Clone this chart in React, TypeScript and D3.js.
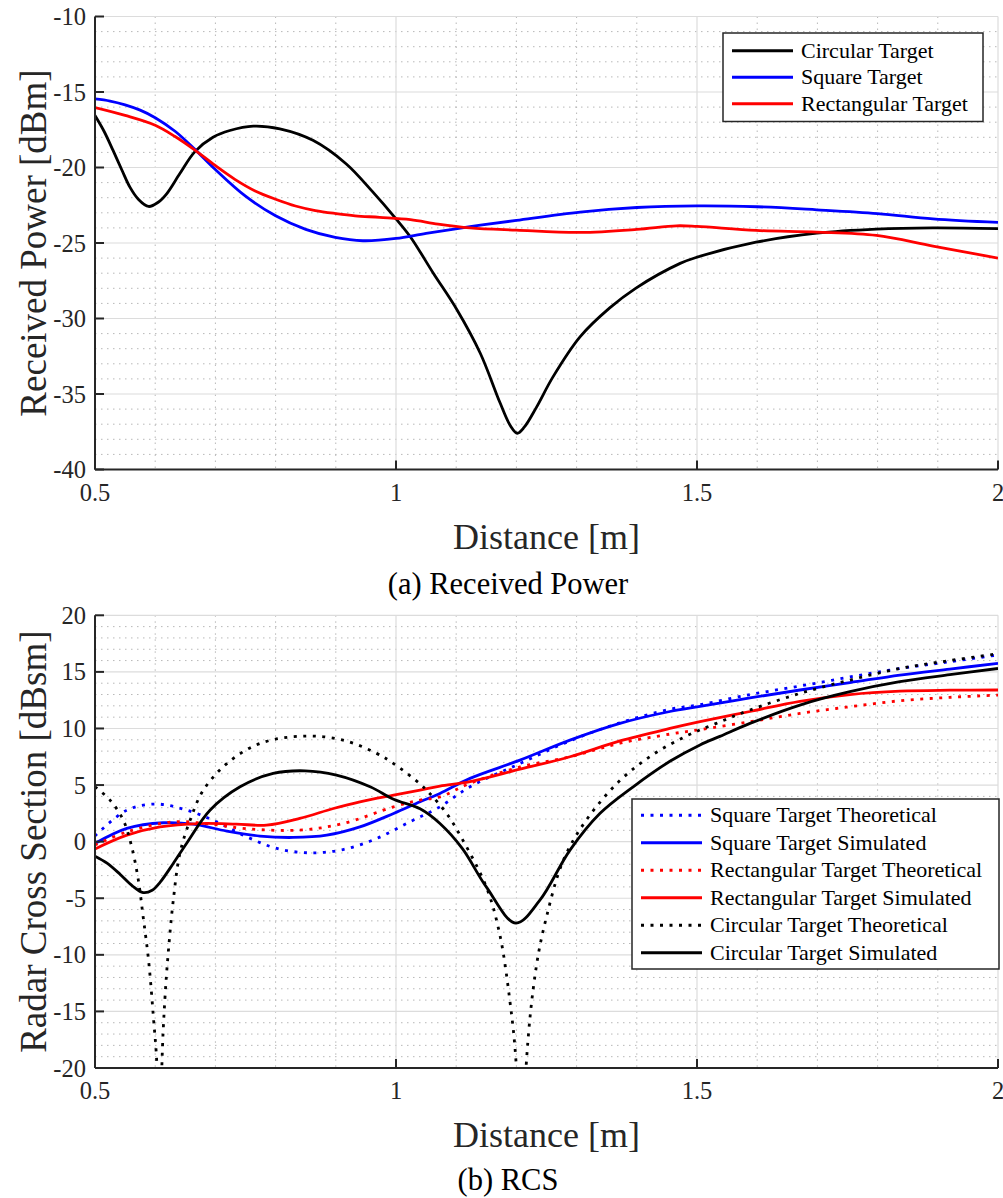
import React from "react";
import * as d3 from "d3";

// ---------- Data: (a) Received Power ----------
const rpCircX = [0.5, 0.515, 0.53, 0.545, 0.558, 0.572, 0.589, 0.605, 0.619, 0.641, 0.666, 0.696, 0.724, 0.763, 0.807, 0.862, 0.917, 0.961, 1.0, 1.024, 1.062, 1.101, 1.14, 1.173, 1.19, 1.2015, 1.213, 1.233, 1.261, 1.306, 1.355, 1.398, 1.472, 1.5, 1.598, 1.699, 1.798, 1.892, 2.0];
const rpCircY = [-16.56, -17.6, -18.87, -20.2, -21.3, -22.1, -22.58, -22.3, -21.74, -20.4, -18.95, -18.0, -17.55, -17.26, -17.44, -18.2, -19.75, -21.6, -23.4, -24.6, -27.0, -29.4, -32.3, -35.6, -37.1, -37.6, -37.2, -35.9, -33.85, -31.2, -29.3, -28.0, -26.35, -25.94, -24.95, -24.35, -24.08, -24.0, -24.05];

const rpSqX = [0.5, 0.525, 0.55, 0.575, 0.6, 0.633, 0.666, 0.699, 0.75, 0.8, 0.85, 0.899, 0.945, 1.0, 1.05, 1.123, 1.2, 1.306, 1.4, 1.5, 1.6, 1.699, 1.8, 1.892, 2.0];
const rpSqY = [-15.46, -15.6, -15.85, -16.2, -16.7, -17.6, -18.8, -20.1, -21.9, -23.2, -24.1, -24.63, -24.85, -24.7, -24.36, -23.92, -23.5, -22.95, -22.65, -22.54, -22.6, -22.8, -23.05, -23.4, -23.64];

const rpRectX = [0.5, 0.55, 0.6, 0.633, 0.666, 0.699, 0.733, 0.766, 0.8, 0.833, 0.866, 0.9, 0.932, 0.973, 1.024, 1.07, 1.123, 1.2, 1.306, 1.4, 1.466, 1.5, 1.598, 1.699, 1.798, 1.892, 2.0];
const rpRectY = [-16.03, -16.55, -17.2, -17.95, -18.85, -19.85, -20.8, -21.55, -22.1, -22.55, -22.85, -23.05, -23.2, -23.3, -23.45, -23.75, -24.0, -24.15, -24.3, -24.1, -23.86, -23.9, -24.17, -24.28, -24.5, -25.2, -26.0];

// ---------- Data: (b) RCS ----------
const rcsSqThX = [0.5, 0.553, 0.602, 0.652, 0.702, 0.752, 0.802, 0.857, 0.912, 0.968, 1.023, 1.073, 1.123, 1.206, 1.289, 1.372, 1.455, 1.505, 1.588, 1.671, 1.754, 1.837, 1.92, 2.0];
const rcsSqThY = [0.5, 2.79, 3.32, 2.79, 1.75, 0.43, -0.6, -0.99, -0.7, 0.28, 1.75, 3.08, 4.85, 6.9, 8.9, 10.5, 11.7, 12.1, 13.0, 13.75, 14.55, 15.3, 15.9, 16.5];

const rcsSqSimX = [0.5, 0.553, 0.613, 0.663, 0.719, 0.774, 0.829, 0.885, 0.94, 0.996, 1.04, 1.073, 1.123, 1.206, 1.289, 1.372, 1.455, 1.505, 1.588, 1.671, 1.754, 1.837, 1.92, 2.0];
const rcsSqSimY = [-0.16, 1.17, 1.67, 1.55, 0.93, 0.49, 0.37, 0.57, 1.3, 2.49, 3.52, 4.26, 5.59, 7.2, 8.97, 10.45, 11.5, 11.95, 12.7, 13.4, 14.05, 14.72, 15.25, 15.75];

const rcsRectThX = [0.5, 0.553, 0.63, 0.691, 0.752, 0.84, 0.912, 0.996, 1.04, 1.073, 1.123, 1.206, 1.289, 1.372, 1.455, 1.505, 1.588, 1.671, 1.754, 1.837, 1.92, 2.0];
const rcsRectThY = [-0.3, 0.86, 1.75, 1.55, 1.14, 1.02, 1.6, 3.08, 3.67, 3.96, 5.15, 6.6, 7.5, 8.7, 9.5, 9.9, 10.6, 11.33, 11.92, 12.45, 12.75, 12.95];

const rcsRectSimX = [0.5, 0.553, 0.608, 0.674, 0.735, 0.785, 0.84, 0.896, 0.94, 0.996, 1.04, 1.073, 1.123, 1.206, 1.289, 1.372, 1.455, 1.505, 1.588, 1.671, 1.754, 1.837, 1.92, 2.0];
const rcsRectSimY = [-0.65, 0.57, 1.3, 1.6, 1.55, 1.46, 2.05, 2.93, 3.52, 4.11, 4.55, 4.91, 5.3, 6.4, 7.5, 8.9, 10.0, 10.6, 11.5, 12.4, 13.0, 13.3, 13.38, 13.4];

const rcsCircThX = [0.5, 0.525, 0.547, 0.561, 0.572, 0.58, 0.589, 0.597, 0.603, 0.607, 0.611, 0.616, 0.622, 0.63, 0.641, 0.658, 0.68, 0.719, 0.774, 0.849, 0.912, 0.968, 0.996, 1.04, 1.056, 1.084, 1.111, 1.15, 1.172, 1.189, 1.2, 1.208, 1.216, 1.233, 1.25, 1.278, 1.316, 1.372, 1.427, 1.483, 1.532, 1.588, 1.671, 1.754, 1.837, 1.92, 2.0];
const rcsCircThY = [4.85, 3.67, 1.9, -0.46, -3.4, -6.65, -10.5, -15.5, -20, -40, -20, -14.0, -9.6, -5.2, -1.04, 1.9, 4.55, 6.9, 8.68, 9.33, 8.97, 7.8, 6.9, 5.1, 4.26, 2.5, 0.13, -4.0, -8.1, -14.0, -20, -40, -20, -11.07, -6.65, -1.64, 1.9, 5.4, 7.7, 9.35, 10.45, 11.63, 13.1, 14.28, 15.3, 16.0, 16.6];

const rcsCircSimX = [0.5, 0.52, 0.542, 0.562, 0.58, 0.595, 0.608, 0.63, 0.652, 0.691, 0.741, 0.796, 0.849, 0.901, 0.957, 0.996, 1.04, 1.073, 1.11, 1.15, 1.199, 1.239, 1.289, 1.339, 1.394, 1.455, 1.505, 1.538, 1.588, 1.671, 1.754, 1.837, 1.92, 2.0];
const rcsCircSimY = [-1.28, -1.9, -2.9, -3.9, -4.5, -4.3, -3.6, -1.93, -0.16, 2.78, 4.85, 6.03, 6.26, 5.88, 4.85, 3.75, 2.9, 1.6, -0.6, -4.0, -7.2, -5.17, -0.75, 2.5, 4.85, 7.1, 8.55, 9.3, 10.45, 12.07, 13.25, 14.13, 14.75, 15.3];

// ---------- Ticks / labels ----------
const xTicks = [0.5, 1, 1.5, 2];
const xTickLabels = ["0.5", "1", "1.5", "2"];
const rpYTicks = [-40, -35, -30, -25, -20, -15, -10];
const rcsYTicks = [-20, -15, -10, -5, 0, 5, 10, 15, 20];

const AX = "#262626";
const FONT = "'Liberation Serif', 'Times New Roman', serif";
const DOT = "3 6.5";

type Series = { name: string; xs: number[]; ys: number[]; color: string; dotted: boolean };

const rpSeries: Series[] = [
  { name: "Circular Target", xs: rpCircX, ys: rpCircY, color: "#000000", dotted: false },
  { name: "Square Target", xs: rpSqX, ys: rpSqY, color: "#0000ff", dotted: false },
  { name: "Rectangular Target", xs: rpRectX, ys: rpRectY, color: "#ff0000", dotted: false },
];

const rcsSeries: Series[] = [
  { name: "Square Target Theoretical", xs: rcsSqThX, ys: rcsSqThY, color: "#0000ff", dotted: true },
  { name: "Square Target Simulated", xs: rcsSqSimX, ys: rcsSqSimY, color: "#0000ff", dotted: false },
  { name: "Rectangular Target Theoretical", xs: rcsRectThX, ys: rcsRectThY, color: "#ff0000", dotted: true },
  { name: "Rectangular Target Simulated", xs: rcsRectSimX, ys: rcsRectSimY, color: "#ff0000", dotted: false },
  { name: "Circular Target Theoretical", xs: rcsCircThX, ys: rcsCircThY, color: "#000000", dotted: true },
  { name: "Circular Target Simulated", xs: rcsCircSimX, ys: rcsCircSimY, color: "#000000", dotted: false },
];

type PanelProps = {
  id: string;
  top: number;
  bottom: number;
  yDomain: [number, number];
  yTicks: number[];
  yLabel: string;
  series: Series[];
  legend: { x: number; y: number; w: number; rowH: number; pad: number };
  caption: string;
  captionY: number;
};

const LEFT = 95;
const RIGHT = 998;

function Panel(p: PanelProps) {
  const x = d3.scaleLinear().domain([0.5, 2]).range([LEFT, RIGHT]);
  const y = d3.scaleLinear().domain(p.yDomain).range([p.bottom, p.top]);
  const line = d3
    .line<[number, number]>()
    .x((d) => x(d[0]))
    .y((d) => y(d[1]))
    .curve(d3.curveCatmullRom.alpha(0.5));

  const xMinor = d3.range(6, 20).map((v) => v / 10).filter((v) => Math.abs(v * 2 - Math.round(v * 2)) > 1e-6);
  const yMinor = d3.range(p.yDomain[0], p.yDomain[1] + 1).filter((v) => v % 5 !== 0);

  const legH = p.series.length * p.legend.rowH + p.legend.pad * 2;
  const midY = (p.top + p.bottom) / 2;

  return (
    <g>
      <defs>
        <clipPath id={p.id}>
          <rect x={LEFT} y={p.top} width={RIGHT - LEFT} height={p.bottom - p.top} />
        </clipPath>
      </defs>
      {/* minor grid */}
      {xMinor.map((v) => (
        <line key={"xm" + v} x1={x(v)} x2={x(v)} y1={p.top} y2={p.bottom} stroke="#b8b8b8" strokeWidth={1} strokeDasharray="1.5 4.5" />
      ))}
      {yMinor.map((v) => (
        <line key={"ym" + v} x1={LEFT} x2={RIGHT} y1={y(v)} y2={y(v)} stroke="#b8b8b8" strokeWidth={1} strokeDasharray="1.5 4.5" />
      ))}
      {/* major grid */}
      {xTicks.map((v) => (
        <line key={"xg" + v} x1={x(v)} x2={x(v)} y1={p.top} y2={p.bottom} stroke="#dcdcdc" strokeWidth={1.2} />
      ))}
      {p.yTicks.map((v) => (
        <line key={"yg" + v} x1={LEFT} x2={RIGHT} y1={y(v)} y2={y(v)} stroke="#dcdcdc" strokeWidth={1.2} />
      ))}
      {/* data */}
      <g clipPath={`url(#${p.id})`}>
        {p.series.map((s) => (
          <path
            key={s.name}
            d={line(s.xs.map((xv, i) => [xv, s.ys[i]] as [number, number])) || ""}
            fill="none"
            stroke={s.color}
            strokeWidth={2.8}
            strokeDasharray={s.dotted ? DOT : undefined}
            strokeLinejoin="round"
          />
        ))}
      </g>
      {/* axes */}
      <line x1={LEFT} x2={LEFT} y1={p.top} y2={p.bottom} stroke={AX} strokeWidth={2} />
      <line x1={LEFT} x2={RIGHT} y1={p.bottom} y2={p.bottom} stroke={AX} strokeWidth={2} />
      {p.yTicks.map((v) => (
        <g key={"yt" + v}>
          <line x1={LEFT} x2={LEFT + 9} y1={y(v)} y2={y(v)} stroke={AX} strokeWidth={2} />
          <text x={86} y={y(v) + 8.5} textAnchor="end" fontFamily={FONT} fontSize={24.5} fill={AX}>
            {String(v)}
          </text>
        </g>
      ))}
      {xTicks.map((v, i) => (
        <g key={"xt" + v}>
          <line x1={x(v)} x2={x(v)} y1={p.bottom} y2={p.bottom - 9} stroke={AX} strokeWidth={2} />
          <text x={x(v)} y={p.bottom + 31} textAnchor="middle" fontFamily={FONT} fontSize={24.5} fill={AX}>
            {xTickLabels[i]}
          </text>
        </g>
      ))}
      {/* axis labels */}
      <text x={(LEFT + RIGHT) / 2} y={p.bottom + 79} textAnchor="middle" fontFamily={FONT} fontSize={36} fill={AX}>
        Distance [m]
      </text>
      <text
        transform={`translate(46, ${midY}) rotate(-90)`}
        textAnchor="middle"
        fontFamily={FONT}
        fontSize={37}
        fill={AX}
      >
        {p.yLabel}
      </text>
      {/* legend */}
      <rect x={p.legend.x} y={p.legend.y} width={p.legend.w} height={legH} fill="#ffffff" stroke={AX} strokeWidth={1.5} />
      {p.series.map((s, i) => {
        const cy = p.legend.y + p.legend.pad + p.legend.rowH * (i + 0.5);
        return (
          <g key={"lg" + s.name}>
            <line
              x1={p.legend.x + 9}
              x2={p.legend.x + 70}
              y1={cy}
              y2={cy}
              stroke={s.color}
              strokeWidth={2.8}
              strokeDasharray={s.dotted ? DOT : undefined}
            />
            <text x={p.legend.x + 78} y={cy + 7} fontFamily={FONT} fontSize={22} fill="#000">
              {s.name}
            </text>
          </g>
        );
      })}
      {/* caption */}
      <text x={508} y={p.captionY} textAnchor="middle" fontFamily={FONT} fontSize={30.5} fill="#000">
        {p.caption}
      </text>
    </g>
  );
}

export default function App() {
  return (
    <svg
      width={1003}
      height={1198}
      style={{ position: "absolute", left: 0, top: 0, background: "#fff" }}
    >
      <rect x={0} y={0} width={1003} height={1198} fill="#fff" />
      <Panel
        id="clipA"
        top={16.5}
        bottom={469.5}
        yDomain={[-40, -10]}
        yTicks={rpYTicks}
        yLabel="Received Power [dBm]"
        series={rpSeries}
        legend={{ x: 723, y: 33, w: 260, rowH: 26.5, pad: 4.5 }}
        caption="(a) Received Power"
        captionY={594}
      />
      <Panel
        id="clipB"
        top={615.3}
        bottom={1068}
        yDomain={[-20, 20]}
        yTicks={rcsYTicks}
        yLabel="Radar Cross Section [dBsm]"
        series={rcsSeries}
        legend={{ x: 632, y: 799, w: 367, rowH: 27.5, pad: 2.5 }}
        caption="(b) RCS"
        captionY={1190}
      />
    </svg>
  );
}
